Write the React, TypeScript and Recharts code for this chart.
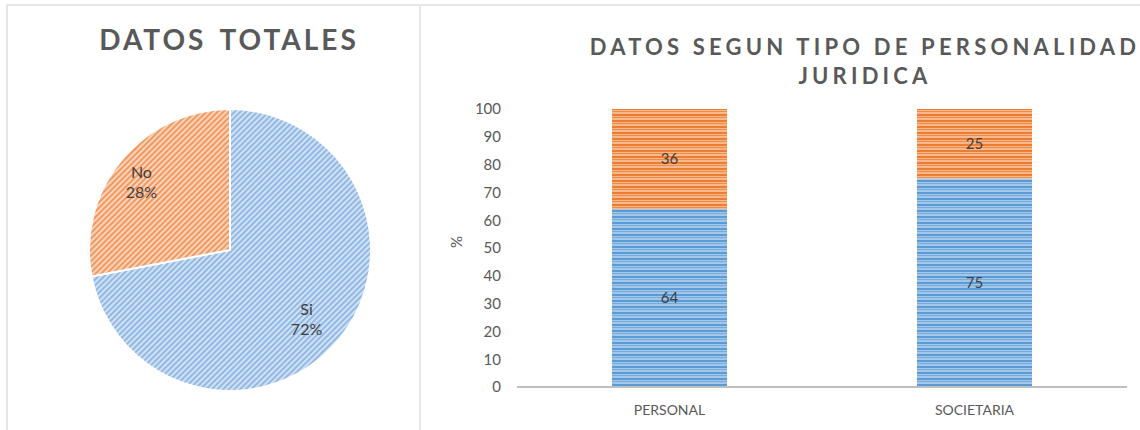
import { PieChart, Pie, Cell, BarChart, Bar, XAxis, YAxis, LabelList } from "recharts";

const pieNames = ["Si", "No"];
const pieValues = [72, 28];

const categories = ["PERSONAL", "SOCIETARIA"];
const siValues = [64, 75];
const noValues = [36, 25];
const yTicks = [0, 10, 20, 30, 40, 50, 60, 70, 80, 90, 100];

const pieData = pieNames.map((name, i) => ({ name, value: pieValues[i] }));
const barData = categories.map((cat, i) => ({ cat, si: siValues[i], no: noValues[i] }));

const FONT = "Lato, 'Open Sans', sans-serif";
const GRAY = "#595959";
const RAD = Math.PI / 180;

function PieLabel(props: any) {
  const { cx, cy, midAngle, outerRadius, name, percent } = props;
  const r = outerRadius * 0.76;
  const x = cx + r * Math.cos(-midAngle * RAD) - 6;
  const y = cy + r * Math.sin(-midAngle * RAD);
  return (
    <text x={x} y={y} textAnchor="middle" fill="#404040" fontFamily={FONT} fontSize={16}>
      <tspan x={x} dy="-0.2em">{name}</tspan>
      <tspan x={x} dy="1.25em">{Math.round(percent * 100)}%</tspan>
    </text>
  );
}

export default function App() {
  return (
    <div style={{ position: "absolute", left: 0, top: 0, width: 1140, height: 430, background: "#fff", fontFamily: FONT, overflow: "hidden" }}>
      {/* panel borders */}
      <div style={{ position: "absolute", left: 6, top: 4, width: 1134, height: 2, background: "#e6e6e6" }} />
      <div style={{ position: "absolute", left: 6, top: 4, width: 2, height: 426, background: "#e6e6e6" }} />
      <div style={{ position: "absolute", left: 419, top: 4, width: 2, height: 426, background: "#e6e6e6" }} />

      {/* left: pie */}
      <div style={{ position: "absolute", left: 0, top: 22, width: 458, textAlign: "center", fontSize: 28, fontWeight: 700, letterSpacing: 3, wordSpacing: 4, color: GRAY }}>
        DATOS TOTALES
      </div>
      <div style={{ position: "absolute", left: 0, top: 0 }}>
        <PieChart width={418} height={430}>
          <defs>
            <pattern id="pieBlue" width="4" height="4" patternUnits="userSpaceOnUse" patternTransform="rotate(45)">
              <rect width="4" height="4" fill="#cfe1f5" />
              <rect width="2" height="4" fill="#93b8e4" />
            </pattern>
            <pattern id="pieOrange" width="4" height="4" patternUnits="userSpaceOnUse" patternTransform="rotate(45)">
              <rect width="4" height="4" fill="#fad3b8" />
              <rect width="2" height="4" fill="#f09a62" />
            </pattern>
          </defs>
          <Pie
            data={pieData}
            dataKey="value"
            nameKey="name"
            cx={225}
            cy={245}
            outerRadius={141}
            startAngle={90}
            endAngle={-270}
            stroke="#fff"
            strokeWidth={2}
            label={PieLabel}
            labelLine={false}
            isAnimationActive={false}
          >
            <Cell fill="url(#pieBlue)" />
            <Cell fill="url(#pieOrange)" />
          </Pie>
        </PieChart>
      </div>

      {/* right: stacked bars */}
      <div style={{ position: "absolute", left: 560, top: 32, width: 610, textAlign: "center", fontSize: 22, fontWeight: 700, letterSpacing: 4.2, color: GRAY, lineHeight: "29px" }}>
        DATOS SEGUN TIPO DE PERSONALIDAD
        <br />
        JURIDICA
      </div>
      <div style={{ position: "absolute", left: 420, top: 0 }}>
        <BarChart width={720} height={430} data={barData} margin={{ top: 109, right: 13, bottom: 13, left: 0 }} barSize={115}>
          <defs>
            <pattern id="barBlue" width="6" height="6" patternUnits="userSpaceOnUse">
              <rect width="6" height="6" fill="#a3c7e8" />
              <rect width="6" height="2" fill="#5b9bd5" />
              <rect y="3" width="6" height="1" fill="#74aadd" />
            </pattern>
            <pattern id="barOrange" width="6" height="6" patternUnits="userSpaceOnUse">
              <rect width="6" height="6" fill="#f6b88c" />
              <rect width="6" height="2" fill="#ed7d31" />
              <rect y="3" width="6" height="1" fill="#f08a45" />
            </pattern>
          </defs>
          <XAxis
            dataKey="cat"
            axisLine={{ stroke: "#bfbfbf", strokeWidth: 2 }}
            tickLine={false}
            tick={{ fill: GRAY, fontSize: 14, fontFamily: FONT }}
            tickMargin={12}
            height={30}
          />
          <YAxis
            domain={[0, 100]}
            ticks={yTicks}
            interval={0}
            axisLine={false}
            tickLine={false}
            width={97}
            tickMargin={10}
            tick={{ fill: GRAY, fontSize: 15, fontFamily: FONT }}
            label={{ value: "%", angle: -90, position: "insideLeft", offset: 37, fill: GRAY, fontSize: 15, fontFamily: FONT }}
          />
          <Bar dataKey="si" stackId="a" fill="url(#barBlue)" isAnimationActive={false}>
            <LabelList dataKey="si" position="center" fill="#404040" fontSize={15} fontFamily={FONT} />
          </Bar>
          <Bar dataKey="no" stackId="a" fill="url(#barOrange)" isAnimationActive={false}>
            <LabelList dataKey="no" position="center" fill="#404040" fontSize={15} fontFamily={FONT} />
          </Bar>
        </BarChart>
      </div>
    </div>
  );
}
